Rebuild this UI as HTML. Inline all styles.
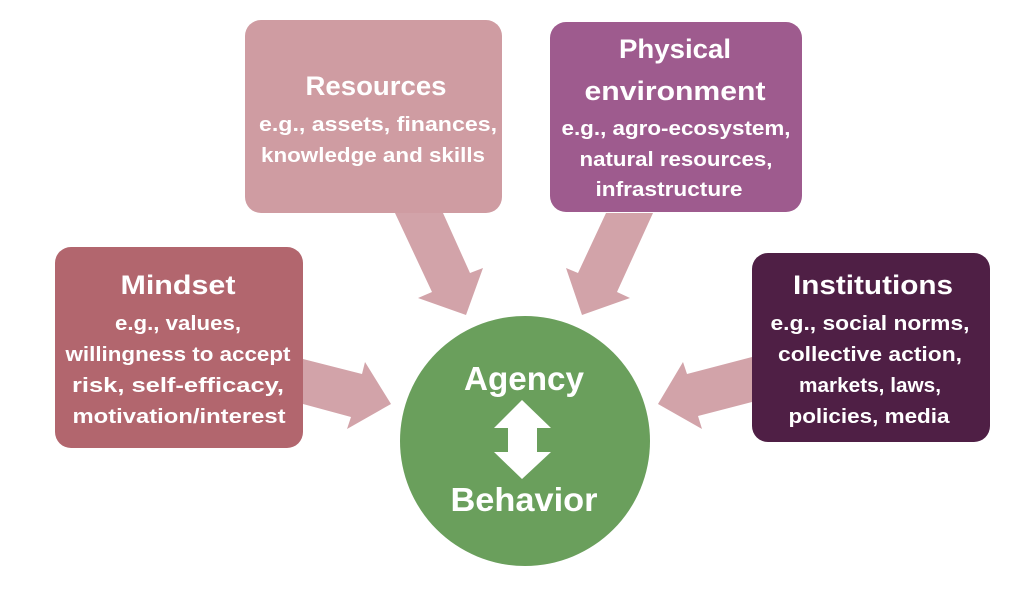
<!DOCTYPE html>
<html><head><meta charset="utf-8"><style>
html,body{margin:0;padding:0;background:#fff;}
svg{display:block;}
text{font-family:"Liberation Sans",sans-serif;font-weight:bold;fill:#fff;}
.t{font-size:27px;}
.b{font-size:20px;}
.c{font-size:33px;}
</style></head><body>
<svg width="1031" height="591" viewBox="0 0 1031 591">
<!-- arrows -->
<g fill="#d2a3a9">
<polygon points="395,213 443,213 470,273 483,268 466,315 418,298 432,292"/>
<polygon points="606,213 653,213 617,292 630,298 582,315 566,268 578,273"/>
<polygon points="303,359 362,374 365,362 391,404 347,429 351,417 303,404"/>
<polygon points="752,357 752,402 698,416 702,429 658,404 683,362 687,374"/>
</g>
<!-- boxes -->
<rect x="245" y="20" width="257" height="193" rx="16" fill="#cf9ca2"/>
<rect x="550" y="22" width="252" height="190" rx="16" fill="#9e5b8e"/>
<rect x="55" y="247" width="248" height="201" rx="16" fill="#b2666e"/>
<rect x="752" y="253" width="238" height="189" rx="16" fill="#4f1f45"/>
<circle cx="525" cy="441" r="125" fill="#6a9f5c"/>
<polygon points="522,400 551,428 537,428 537,452 551,452 522,479 494,452 508,452 508,428 494,428" fill="#fff"/>
<!-- text -->
<g text-anchor="middle" lengthAdjust="spacingAndGlyphs">
<text class="t" x="376" y="95" textLength="141" lengthAdjust="spacingAndGlyphs">Resources</text>
<text class="b" x="378" y="131" textLength="238" lengthAdjust="spacingAndGlyphs">e.g., assets, finances,</text>
<text class="b" x="373" y="162" textLength="224" lengthAdjust="spacingAndGlyphs">knowledge and skills</text>

<text class="t" x="675" y="58" textLength="112" lengthAdjust="spacingAndGlyphs">Physical</text>
<text class="t" x="675" y="100" textLength="181" lengthAdjust="spacingAndGlyphs">environment</text>
<text class="b" x="676" y="135" textLength="229" lengthAdjust="spacingAndGlyphs">e.g., agro-ecosystem,</text>
<text class="b" x="676" y="166" textLength="193" lengthAdjust="spacingAndGlyphs">natural resources,</text>
<text class="b" x="669" y="196" textLength="147" lengthAdjust="spacingAndGlyphs">infrastructure</text>

<text class="t" x="178" y="294" textLength="115" lengthAdjust="spacingAndGlyphs">Mindset</text>
<text class="b" x="178" y="330" textLength="126" lengthAdjust="spacingAndGlyphs">e.g., values,</text>
<text class="b" x="178" y="361" textLength="225" lengthAdjust="spacingAndGlyphs">willingness to accept</text>
<text class="b" x="178" y="392" textLength="212" lengthAdjust="spacingAndGlyphs">risk, self-efficacy,</text>
<text class="b" x="179" y="423" textLength="213" lengthAdjust="spacingAndGlyphs">motivation/interest</text>

<text class="t" x="873" y="294" textLength="160" lengthAdjust="spacingAndGlyphs">Institutions</text>
<text class="b" x="870" y="330" textLength="199" lengthAdjust="spacingAndGlyphs">e.g., social norms,</text>
<text class="b" x="870" y="361" textLength="184" lengthAdjust="spacingAndGlyphs">collective action,</text>
<text class="b" x="870" y="392" textLength="142" lengthAdjust="spacingAndGlyphs">markets, laws,</text>
<text class="b" x="869" y="423" textLength="161" lengthAdjust="spacingAndGlyphs">policies, media</text>

<text class="c" x="524" y="390" textLength="120" lengthAdjust="spacingAndGlyphs">Agency</text>
<text class="c" x="524" y="511" textLength="147" lengthAdjust="spacingAndGlyphs">Behavior</text>
</g>
</svg>
</body></html>
